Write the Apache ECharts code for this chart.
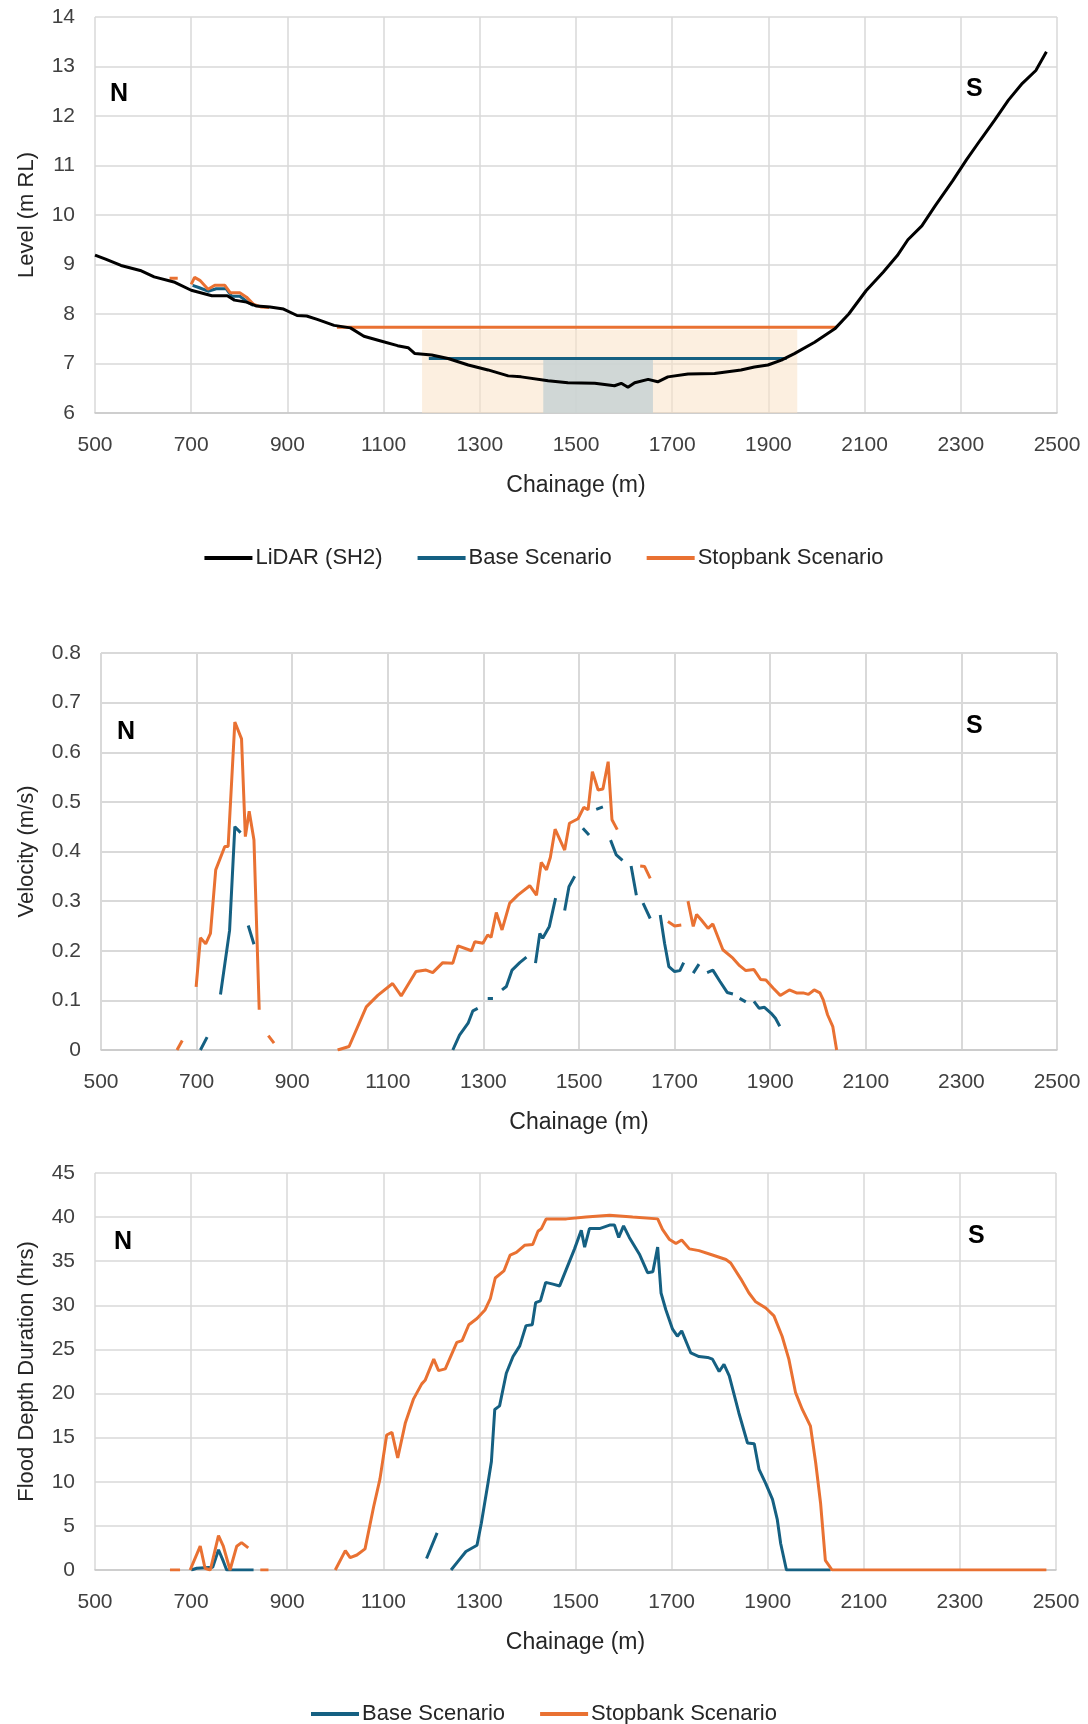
<!DOCTYPE html>
<html>
<head>
<meta charset="utf-8">
<title>Chainage cross-section</title>
<script src="https://cdn.jsdelivr.net/npm/echarts@6/dist/echarts.min.js"></script>
<style>
html, body { margin: 0; padding: 0; background: #fff; }
#chart { width: 1088px; height: 1724px; }
</style>
</head>
<body>
<div id="chart"></div>
<script>
// chainage ticks shared by all three panels
var chainageTicks = [500, 2500, 200];

// --- panel 1: level (m RL) ---
var lidarLevel = [[500,9.19],[522,9.11],[554,8.98],[594,8.88],[623,8.75],[666,8.64],[700,8.48],[743,8.37],[775,8.37],[790,8.28],[815,8.24],[836,8.16],[864,8.14],[892,8.1],[920,7.97],[940,7.96],[962,7.89],[997,7.77],[1031,7.72],[1059,7.55],[1096,7.45],[1129,7.36],[1151,7.32],[1165,7.2],[1200,7.17],[1234,7.1],[1276,6.97],[1317,6.87],[1359,6.75],[1386,6.73],[1442,6.65],[1483,6.61],[1539,6.6],[1580,6.55],[1594,6.6],[1608,6.52],[1622,6.61],[1650,6.68],[1670,6.63],[1691,6.73],[1733,6.79],[1788,6.8],[1843,6.87],[1871,6.93],[1899,6.97],[1927,7.07],[1954,7.2],[1996,7.43],[2038,7.7],[2067,8.0],[2103,8.47],[2139,8.85],[2168,9.18],[2190,9.5],[2219,9.78],[2247,10.19],[2283,10.69],[2312,11.12],[2341,11.52],[2370,11.91],[2399,12.32],[2428,12.66],[2456,12.92],[2478,13.3]];
var baseLevel = [[703,8.58],[717,8.53],[735,8.46],[752,8.51],[773,8.51],[784,8.36],[801,8.36],[815,8.26],[829,8.17],[1000,null],[1194,7.1],[1938,7.1]];
var stopbankLevel = [[655,8.72],[672,8.72],[690,null],[700,8.6],[707,8.74],[718,8.68],[735,8.5],[749,8.58],[770,8.58],[781,8.43],[801,8.43],[815,8.34],[829,8.2],[846,8.14],[862,8.13],[950,null],[1003,7.73],[2042,7.73]];
// shaded extents: [from chainage, to chainage, top level]
var stopbankShade = [1180, 1960, 7.68];
var baseShade = [1432, 1660, 7.08];

// --- panel 2: velocity (m/s) ---
var baseVelocity = [[708,0],[722,0.026],[735,null],[750,0.112],[769,0.241],[780,0.45],[792,0.438],[800,null],[808,0.251],[820,0.213],[1000,null],
  [1236,0],[1250,0.03],[1268,0.054],[1278,0.079],[1288,0.084],[1300,null],[1309,0.104],[1320,0.104],[1330,null],[1339,0.121],[1348,0.128],[1360,0.161],[1376,0.176],[1390,0.187],[1400,null],
  [1409,0.175],[1418,0.235],[1424,0.225],[1438,0.249],[1451,0.306],[1460,null],[1470,0.281],[1479,0.329],[1491,0.35],[1500,null],[1508,0.447],[1521,0.433],[1528,null],[1536,0.485],[1550,0.49],[1558,null],
  [1566,0.423],[1578,0.393],[1591,0.382],[1600,null],[1609,0.371],[1620,0.312],[1627,null],[1634,0.296],[1649,0.265],[1660,null],[1670,0.272],[1679,0.215],[1688,0.168],[1700,0.158],[1711,0.16],[1719,0.176],[1730,null],
  [1739,0.155],[1751,0.173],[1760,null],[1768,0.156],[1780,0.161],[1795,0.138],[1810,0.116],[1822,0.113],[1829,null],[1836,0.104],[1849,0.097],[1857,null],[1866,0.098],[1877,0.084],[1888,0.086],[1902,0.074],[1911,0.064],[1920,0.048]];
var stopbankVelocity = [[659,0],[670,0.019],[685,null],[699,0.127],[708,0.226],[719,0.214],[729,0.235],[740,0.363],[759,0.41],[766,0.41],[780,0.661],[794,0.627],[802,0.43],[810,0.481],[820,0.423],[831,0.081],[840,null],[850,0.029],[862,0.014],[930,null],
  [995,0],[1019,0.007],[1055,0.087],[1079,0.11],[1110,0.134],[1128,0.109],[1159,0.158],[1180,0.161],[1194,0.156],[1215,0.176],[1236,0.175],[1247,0.21],[1275,0.2],[1282,0.218],[1299,0.215],[1309,0.232],[1316,0.227],[1327,0.277],[1339,0.242],[1355,0.296],[1372,0.312],[1397,0.331],[1411,0.312],[1421,0.378],[1432,0.363],[1440,0.388],[1450,0.445],[1470,0.403],[1480,0.457],[1498,0.466],[1510,0.489],[1519,0.484],[1528,0.561],[1540,0.524],[1550,0.526],[1561,0.581],[1569,0.464],[1580,0.444],[1600,null],
  [1628,0.371],[1637,0.37],[1649,0.346],[1665,null],[1686,0.259],[1700,0.25],[1714,0.252],[1720,null],
  [1728,0.3],[1739,0.249],[1746,0.273],[1756,0.262],[1770,0.245],[1780,0.254],[1801,0.202],[1822,0.185],[1836,0.17],[1849,0.16],[1866,0.162],[1880,0.142],[1891,0.141],[1906,0.125],[1921,0.11],[1940,0.121],[1955,0.115],[1969,0.115],[1980,0.112],[1992,0.121],[2004,0.115],[2011,0.101],[2020,0.071],[2031,0.047],[2039,0]];

// --- panel 3: flood depth duration (hrs) ---
var baseDuration = [[700,0],[712,0.2],[745,0.3],[757,2.3],[767,1],[774,0],[830,0],[900,null],[1190,1.3],[1212,4.2],[1225,null],
  [1241,0],[1255,0.95],[1272,2.1],[1295,2.8],[1304,5.3],[1318,9.9],[1325,12.3],[1332,18.2],[1342,18.6],[1356,22.3],[1370,24.2],[1384,25.4],[1397,27.7],[1410,27.8],[1417,30.3],[1427,30.5],[1438,32.6],[1453,32.4],[1467,32.2],[1481,34.1],[1498,36.4],[1512,38.5],[1519,36.6],[1529,38.7],[1550,38.7],[1571,39.1],[1581,39.1],[1590,37.7],[1600,39],[1612,37.7],[1633,35.8],[1650,33.7],[1661,33.8],[1671,36.6],[1678,31.4],[1688,29.5],[1702,27.3],[1712,26.5],[1721,27.1],[1740,24.6],[1757,24.2],[1775,24.1],[1785,23.9],[1799,22.5],[1809,23.3],[1820,22],[1840,17.8],[1858,14.4],[1872,14.3],[1882,11.4],[1896,9.8],[1910,8],[1920,5.7],[1927,3],[1939,0],[2031,0]];
var stopbankDuration = [[656,0],[677,0],[688,null],[698,0],[719,2.7],[729,0.2],[740,0],[757,3.9],[767,2.7],[781,0],[795,2.7],[805,3.1],[819,2.5],[832,null],[844,0],[861,0],[930,null],
  [1000,0],[1021,2.2],[1031,1.4],[1045,1.7],[1062,2.4],[1080,7.2],[1093,10.3],[1107,15.3],[1118,15.6],[1130,12.7],[1146,16.7],[1163,19.4],[1180,21.1],[1187,21.5],[1205,23.9],[1215,22.6],[1229,22.8],[1253,25.8],[1264,26],[1278,27.8],[1295,28.5],[1312,29.5],[1323,30.8],[1333,33.1],[1351,33.9],[1364,35.7],[1377,36],[1394,36.8],[1411,36.9],[1422,38.4],[1429,38.7],[1439,39.8],[1481,39.8],[1522,40],[1571,40.2],[1619,40],[1671,39.8],[1681,38.6],[1695,37.5],[1709,37],[1721,37.4],[1737,36.4],[1757,36.2],[1785,35.7],[1813,35.2],[1823,34.8],[1844,33],[1861,31.4],[1875,30.4],[1896,29.7],[1913,28.8],[1930,26.5],[1944,23.9],[1958,20.1],[1972,18.2],[1989,16.3],[2000,12.1],[2010,7.6],[2020,1.1],[2034,0],[2480,0]];

var levelTicks = [6, 14, 1];
var velocityTicks = [0, 0.8, 0.1];
var durationTicks = [0, 45, 5];

var BLUE = '#156082', ORANGE = '#E97132';
var tickFont = 'Liberation Sans, Arial, sans-serif';
var gridColor = '#d9d9d9';

function plain(v) { return String(v); }

function xAx(idx) {
  return {
    gridIndex: idx, type: 'value',
    min: chainageTicks[0], max: chainageTicks[1], interval: chainageTicks[2],
    name: 'Chainage (m)', nameLocation: 'middle', nameGap: 61,
    nameTextStyle: { fontFamily: tickFont, fontSize: 23, color: '#262626' },
    axisLine: { lineStyle: { color: '#c8c8c8', width: 1.5 } },
    axisTick: { show: false },
    axisLabel: { fontFamily: tickFont, fontSize: 21, color: '#404040', margin: 22, formatter: plain },
    splitLine: { lineStyle: { color: gridColor, width: idx === 1 ? 2 : 1.5 } }
  };
}
function yAx(idx, ticks, name, gap) {
  return {
    gridIndex: idx, type: 'value',
    min: ticks[0], max: ticks[1], interval: ticks[2],
    name: name, nameLocation: 'middle', nameGap: gap,
    nameTextStyle: { fontFamily: tickFont, fontSize: 22, color: '#262626' },
    axisLine: { show: false }, axisTick: { show: false },
    axisLabel: { fontFamily: tickFont, fontSize: 21, color: '#404040', margin: 20, formatter: plain },
    splitLine: { lineStyle: { color: gridColor, width: idx === 1 ? 2 : 1.5 } }
  };
}
function line(name, data, color, idx, extra) {
  var s = {
    name: name, type: 'line', data: data,
    xAxisIndex: idx, yAxisIndex: idx,
    showSymbol: false, symbol: 'none', connectNulls: false, animation: false,
    lineStyle: { color: color, width: 3 }, itemStyle: { color: color }
  };
  for (var k in extra) s[k] = extra[k];
  return s;
}
function nsText(x, y, t) {
  return { type: 'text', left: x, top: y, style: { text: t, fontFamily: tickFont, fontWeight: 'bold', fontSize: 25, fill: '#000' } };
}

var chart = echarts.init(document.getElementById('chart'));
chart.setOption({
  backgroundColor: '#fff',
  animation: false,
  grid: [
    { left: 95, right: 31, top: 17, height: 396 },
    { left: 101, right: 31, top: 653, height: 397 },
    { left: 95, right: 32, top: 1173, height: 397 }
  ],
  xAxis: [xAx(0), xAx(1), xAx(2)],
  yAxis: [
    yAx(0, levelTicks, 'Level (m RL)', 57),
    yAx(1, velocityTicks, 'Velocity (m/s)', 63),
    yAx(2, durationTicks, 'Flood Depth Duration (hrs)', 57)
  ],
  legend: [
    { top: 542, left: 'center', itemWidth: 48, itemHeight: 4, itemGap: 35, icon: 'rect',
      data: ['LiDAR (SH2)', 'Base Scenario', 'Stopbank Scenario'],
      textStyle: { fontFamily: tickFont, fontSize: 22, color: '#262626', padding: [0, 0, 0, -2] } },
    { top: 1698, left: 'center', itemWidth: 48, itemHeight: 4, itemGap: 35, icon: 'rect',
      data: ['Base Scenario', 'Stopbank Scenario'],
      textStyle: { fontFamily: tickFont, fontSize: 22, color: '#262626', padding: [0, 0, 0, -2] } }
  ],
  graphic: [
    nsText(110, 82, 'N'), nsText(966, 77, 'S'),
    nsText(117, 720, 'N'), nsText(966, 714, 'S'),
    nsText(114, 1230, 'N'), nsText(968, 1224, 'S')
  ],
  series: [
    line('Base Scenario', baseLevel, BLUE, 0, {
      markArea: {
        silent: true,
        data: [
          [{ coord: [stopbankShade[0], levelTicks[0]], itemStyle: { color: 'rgba(250,226,198,0.55)' } },
           { coord: [stopbankShade[1], stopbankShade[2]] }],
          [{ coord: [baseShade[0], levelTicks[0]], itemStyle: { color: 'rgba(200,210,212,0.85)' } },
           { coord: [baseShade[1], baseShade[2]] }]
        ]
      }
    }),
    line('Stopbank Scenario', stopbankLevel, ORANGE, 0),
    line('LiDAR (SH2)', lidarLevel, '#000000', 0),
    line('Base Scenario', baseVelocity, BLUE, 1),
    line('Stopbank Scenario', stopbankVelocity, ORANGE, 1),
    line('Base Scenario', baseDuration, BLUE, 2),
    line('Stopbank Scenario', stopbankDuration, ORANGE, 2)
  ]
});
</script>
</body>
</html>
